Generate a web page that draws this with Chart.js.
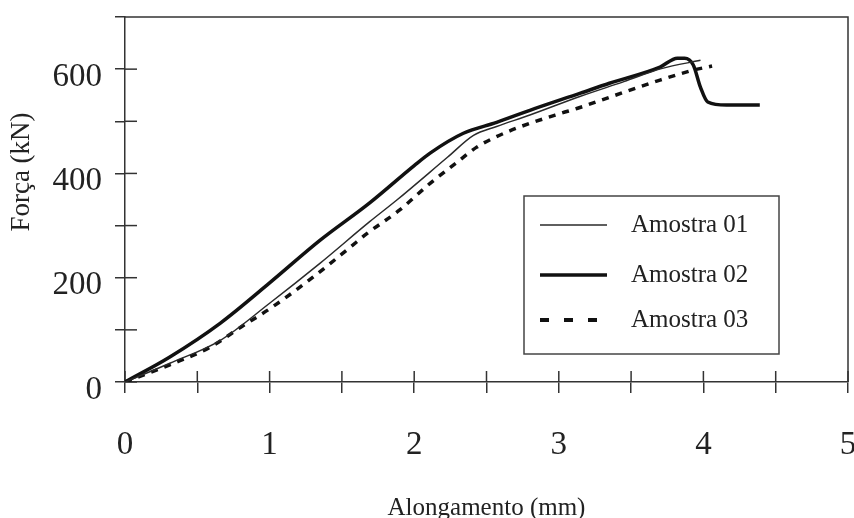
<!DOCTYPE html>
<html>
<head>
<meta charset="utf-8">
<script src="https://cdn.jsdelivr.net/npm/chart.js@4.4.1/dist/chart.umd.min.js"></script>
<style>
  html, body { margin: 0; padding: 0; background: #fff; overflow: hidden; }
  #wrap { width: 854px; height: 518px; }
</style>
</head>
<body>
<div id="wrap"><canvas id="forceChart" width="854" height="518"></canvas></div>
<script>
// Data (Alongamento in mm, Força in kN)
const seriesNames = ['Amostra 01', 'Amostra 02', 'Amostra 03'];

const elong01 = [0, 0.31, 0.66, 1.00, 1.35, 1.69, 1.88, 2.23, 2.41, 2.57, 2.80, 3.15, 3.45, 3.71, 3.98];
const force01 = [0, 36, 80, 151, 228, 307, 349, 431, 473, 490, 512, 548, 576, 601, 617];

const elong02 = [0, 0.31, 0.66, 1.00, 1.35, 1.69, 2.00, 2.11, 2.34, 2.57, 2.80, 3.15, 3.35, 3.70, 3.82, 3.87, 3.93, 3.98, 4.03, 4.16, 4.39];
const force02 = [0, 48, 113, 190, 272, 343, 415, 439, 477, 498, 521, 554, 573, 604, 621, 621, 608, 565, 537, 531, 531];

const elong03 = [0, 0.31, 0.59, 0.80, 1.02, 1.30, 1.56, 1.67, 1.90, 2.11, 2.30, 2.43, 2.55, 2.71, 3.01, 3.13, 3.35, 3.70, 3.93, 4.06];
const force03 = [0, 33, 67, 105, 144, 201, 259, 284, 330, 381, 422, 450, 468, 487, 515, 525, 546, 579, 598, 606];

const xTicksMajor = [0, 1, 2, 3, 4, 5];
const yTicksLabelled = [0, 200, 400, 600];

const yTitle = 'Força (kN)';
const xTitle = 'Alongamento (mm)';

const serif = '"Liberation Serif", "DejaVu Serif", serif';
const ink = '#222';
const axisInk = '#333';

function toPoints(xs, ys) {
    return xs.map((x, i) => ({ x: x, y: ys[i] }));
}

// Inside half of each tick mark, the top/right frame and the y title
const framePlugin = {
    id: 'frame',
    beforeDatasetsDraw(chart) {
        const { ctx, chartArea: a, scales: { x, y } } = chart;
        ctx.save();
        ctx.strokeStyle = axisInk;
        ctx.lineWidth = 1.5;
        ctx.beginPath();
        ctx.moveTo(a.left, a.top);
        ctx.lineTo(a.right, a.top);
        ctx.lineTo(a.right, a.bottom);
        ctx.stroke();
        x.ticks.forEach(t => {
            const px = x.getPixelForValue(t.value);
            ctx.beginPath();
            ctx.moveTo(px, a.bottom);
            ctx.lineTo(px, a.bottom - 11);
            ctx.stroke();
        });
        y.ticks.forEach(t => {
            if (t.value >= 700) return;
            const py = y.getPixelForValue(t.value);
            ctx.beginPath();
            ctx.moveTo(a.left, py);
            ctx.lineTo(a.left + 12, py);
            ctx.stroke();
        });

        // y axis title sits higher than the axis centre in the original
        ctx.translate(22, 172);
        ctx.rotate(-Math.PI / 2);
        ctx.fillStyle = ink;
        ctx.font = '27px ' + serif;
        ctx.textAlign = 'center';
        ctx.textBaseline = 'middle';
        ctx.fillText(yTitle, 0, 0);
        ctx.restore();
    }
};

// Boxed legend inside the plot, lower right
const boxLegend = {
    id: 'boxLegend',
    afterDraw(chart) {
        const ctx = chart.ctx;
        const box = { left: 524, top: 196, right: 779, bottom: 354 };
        const rows = [225, 275, 320];
        ctx.save();
        ctx.strokeStyle = '#444';
        ctx.lineWidth = 1.5;
        ctx.strokeRect(box.left, box.top, box.right - box.left, box.bottom - box.top);
        chart.data.datasets.forEach((ds, i) => {
            const yy = rows[i];
            const dashed = ds.borderDash && ds.borderDash.length;
            ctx.strokeStyle = ds.borderColor;
            ctx.lineWidth = dashed ? 4 : ds.borderWidth;
            ctx.setLineDash(dashed ? [9, 15] : []);
            ctx.beginPath();
            ctx.moveTo(540, yy);
            ctx.lineTo(dashed ? 600 : 607, yy);
            ctx.stroke();
            ctx.setLineDash([]);
            ctx.fillStyle = ink;
            ctx.font = '25px ' + serif;
            ctx.textAlign = 'left';
            ctx.textBaseline = 'middle';
            ctx.fillText(ds.label, 631, yy);
        });
        ctx.restore();
    }
};

const ctx = document.getElementById('forceChart').getContext('2d');
const chart = new Chart(ctx, {
    type: 'line',
    data: {
        datasets: [
            {
                label: seriesNames[0],
                data: toPoints(elong01, force01),
                borderColor: '#2a2a2a',
                borderWidth: 1.5,
                pointRadius: 0,
                cubicInterpolationMode: 'monotone'
            },
            {
                label: seriesNames[1],
                data: toPoints(elong02, force02),
                borderColor: '#111',
                borderWidth: 3.5,
                pointRadius: 0,
                cubicInterpolationMode: 'monotone'
            },
            {
                label: seriesNames[2],
                data: toPoints(elong03, force03),
                borderColor: '#111',
                borderWidth: 3.5,
                borderDash: [7, 7],
                pointRadius: 0,
                cubicInterpolationMode: 'monotone'
            }
        ]
    },
    options: {
        responsive: false,
        animation: false,
        layout: { padding: { top: 17, right: 6, left: 0, bottom: 0 } },
        plugins: {
            legend: { display: false },
            tooltip: { enabled: false }
        },
        scales: {
            x: {
                type: 'linear',
                min: 0,
                max: 5,
                grid: { drawOnChartArea: false, drawTicks: true, tickLength: 11, color: axisInk, lineWidth: 1.5 },
                border: { display: true, color: axisInk, width: 1.5 },
                ticks: {
                    stepSize: 0.5,
                    autoSkip: false,
                    maxRotation: 0,
                    padding: 33,
                    color: ink,
                    font: { family: serif, size: 33 },
                    callback: v => xTicksMajor.includes(v) ? String(v) : ''
                },
                title: {
                    display: true,
                    text: xTitle,
                    color: ink,
                    font: { family: serif, size: 25, lineHeight: 0.8 },
                    padding: { top: 0, bottom: 0 }
                },
                afterFit(scale) {
                    scale.height = 136;
                    scale.paddingLeft = 0;
                    scale.paddingRight = 0;
                }
            },
            y: {
                min: 0,
                max: 700,
                grid: { drawOnChartArea: false, drawTicks: true, tickLength: 10, color: axisInk, lineWidth: 1.5 },
                border: { display: true, color: axisInk, width: 1.5 },
                ticks: {
                    stepSize: 100,
                    autoSkip: false,
                    padding: 13,
                    labelOffset: 8,
                    color: ink,
                    font: { family: serif, size: 33 },
                    callback: v => yTicksLabelled.includes(v) ? String(v) : ''
                },
                title: { display: false },
                afterFit(scale) {
                    scale.width = 125;
                    scale.paddingTop = 0;
                    scale.paddingBottom = 0;
                }
            }
        }
    },
    plugins: [framePlugin, boxLegend]
});
</script>
</body>
</html>
